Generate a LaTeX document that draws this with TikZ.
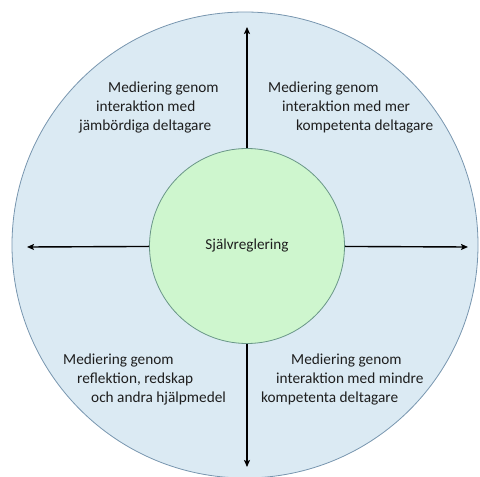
\documentclass[tikz,border=0pt]{standalone}
\usepackage{fontspec}
\setmainfont{Carlito}
\usetikzlibrary{arrows.meta}
\definecolor{outerfill}{RGB}{219,234,243}
\definecolor{outerline}{RGB}{120,150,175}
\definecolor{innerfill}{RGB}{206,246,206}
\definecolor{innerline}{RGB}{105,150,135}
\definecolor{txt}{RGB}{30,30,30}
\tikzset{
  lbl/.style={font=\fontsize{15.3}{19}\selectfont, text=txt, align=left, inner sep=0pt, anchor=west},
  axis/.style={line width=1.4pt, -{Stealth[length=7pt,width=6pt,inset=1.5pt]}},
}
\begin{document}
\begin{tikzpicture}[x=1pt,y=-1pt]
\useasboundingbox (0,0) rectangle (480,477);
\node[circle, draw=outerline, fill=outerfill, line width=0.8pt, minimum size=466pt, inner sep=0pt] (outer) at (245,245) {};
\node[circle, draw=innerline, fill=innerfill, line width=0.8pt, minimum size=195pt, inner sep=0pt, font=\fontsize{15.2}{19}\selectfont, text=txt] (inner) at (247,246) {Självreglering};
\coordinate (N) at (247,27);
\coordinate (S) at (247,467);
\coordinate (W) at (27,247);
\coordinate (E) at (468,247);
\draw[axis] (inner) -- (N);
\draw[axis] (inner) -- (S);
\draw[axis] (inner) -- (W);
\draw[axis] (inner) -- (E);
\node[lbl] (tl) at (79,108) {\hspace*{29pt}Mediering genom\\\hspace*{17pt}interaktion med\\jämbördiga deltagare};
\node[lbl] (tr) at (268,108) {Mediering genom\\\hspace*{14pt}interaktion med mer\\\hspace*{28pt}kompetenta deltagare};
\node[lbl] (bl) at (63,379) {Mediering genom\\\hspace*{14pt}reflektion, redskap\\\hspace*{28pt}och andra hjälpmedel};
\node[lbl] (br) at (261,379) {\hspace*{30pt}Mediering genom\\\hspace*{15pt}interaktion med mindre\\kompetenta deltagare};
\end{tikzpicture}
\end{document}
